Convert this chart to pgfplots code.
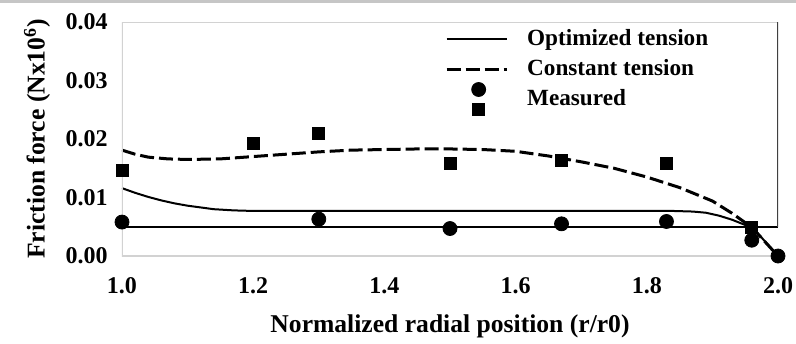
\documentclass[border=0pt]{standalone}
\usepackage{fontspec}
\setmainfont{Liberation Serif}
\usepackage{pgfplots}
\pgfplotsset{compat=1.18}
\newcommand{\myfont}{\fontsize{12}{14}\selectfont\bfseries}
\newcommand{\legfont}{\fontsize{11.6}{14}\selectfont\bfseries}
\newcommand{\labfont}{\fontsize{12.8}{15}\selectfont\bfseries}
\begin{document}
\begin{tikzpicture}
\begin{axis}[
  scale only axis, width=328pt, height=117pt,
  xmin=1, xmax=2, ymin=0, ymax=0.04,
  axis line style={draw=none},
  major tick length=0pt,
  xtick={1,1.2,1.4,1.6,1.8,2},
  ytick={0,0.01,0.02,0.03,0.04},
  scaled y ticks=false,
  /pgf/number format/assume math mode=true,
  x tick label style={/pgf/number format/.cd, fixed, fixed zerofill, precision=1, /tikz/.cd, font=\myfont, anchor=center, yshift=-15pt},
  y tick label style={/pgf/number format/.cd, fixed, fixed zerofill, precision=2, /tikz/.cd, font=\myfont, anchor=east, inner sep=0pt, xshift=-7pt},
  xlabel={Normalized radial position (r/r0)},
  ylabel={Friction force (Nx10\textsuperscript{6})},
  xlabel style={font=\labfont, at={(axis description cs:0.5,-0.299)}, anchor=center},
  ylabel style={font=\labfont, at={(axis description cs:-0.1296,0.5)}, anchor=center},
  legend style={at={(rel axis cs:0.492,0.974)}, anchor=north west, draw=none, fill=none, inner sep=0pt, font=\legfont, row sep=4pt,
    nodes={inner sep=0pt, text height=8.5pt, text depth=2.5pt},
    /tikz/every odd column/.append style={column sep=9.5pt}},
  legend cell align=left,
]
\addlegendimage{black, line width=1pt, legend image code/.code={\draw (0pt,0pt) -- (30pt,0pt);}}
\addlegendentry{Optimized tension}
\addlegendimage{black, line width=1.5pt, dash pattern=on 7pt off 2.5pt, legend image code/.code={\draw (0pt,0pt) -- (30pt,0pt);}}
\addlegendentry{Constant tension}
\addlegendimage{black, legend image code/.code={\path[draw=none] (0pt,0pt) -- (30pt,0pt); \fill[overlay] (16pt,5pt) circle (3.5pt); \fill[overlay] (13pt,-8pt) rectangle (19pt,-2pt);}}
\addlegendentry{Measured}

% reference horizontal line
\addplot[black, line width=0.9pt, forget plot] coordinates {(1,0.0050) (2,0.0050)};
% optimized tension
\addplot[black, line width=1pt, forget plot] coordinates {
(1.00,0.0116) (1.02,0.0108) (1.04,0.0101) (1.06,0.0095) (1.08,0.0090) (1.10,0.0086)
(1.12,0.0083) (1.14,0.0080) (1.17,0.0078) (1.20,0.0077) (1.30,0.0077) (1.50,0.0077)
(1.70,0.0077) (1.84,0.0077) (1.87,0.0076) (1.89,0.0074) (1.91,0.0069) (1.93,0.0062)
(1.95,0.0053) (1.965,0.0044) (2.00,0.0000)};
% constant tension
\addplot[black, line width=1.5pt, dash pattern=on 7pt off 2.5pt, forget plot] coordinates {
(1.00,0.0181) (1.02,0.0174) (1.04,0.0169) (1.07,0.0166) (1.10,0.0165) (1.15,0.0166)
(1.20,0.0170) (1.25,0.0174) (1.30,0.0178) (1.35,0.0181) (1.40,0.0182) (1.45,0.0183)
(1.50,0.0183) (1.55,0.0182) (1.60,0.0179) (1.65,0.0171) (1.70,0.0161) (1.75,0.0150)
(1.80,0.0135) (1.85,0.0117) (1.90,0.0094) (1.93,0.0073) (1.96,0.0049) (2.00,0.0000)};
% measured squares
\addplot[only marks, mark=square*, mark size=3pt, black, forget plot] coordinates {
(1.0,0.0146) (1.2,0.0193) (1.3,0.0209) (1.5,0.0158) (1.67,0.0163) (1.83,0.0159) (1.96,0.0049)};
% measured circles
\addplot[only marks, mark=*, mark size=3.5pt, black, forget plot] coordinates {
(1.0,0.0058) (1.3,0.0063) (1.5,0.0047) (1.67,0.0055) (1.83,0.0059) (1.96,0.0027) (2.0,0.0000)};

\draw[gray!35, line width=0.7pt] (rel axis cs:1,0) -- (rel axis cs:0,0) -- (rel axis cs:0,1) -- (rel axis cs:1,1);
\draw[black!75, line width=0.7pt] (axis cs:2,0.005) -- (rel axis cs:1,1);
\end{axis}
\fill[gray!45] ([shift={(-61pt,11pt)}]current axis.north west) rectangle ([shift={(9pt,9.7pt)}]current axis.north east);
\pgfresetboundingbox
\path ([shift={(-61pt,-43.5pt)}]current axis.south west) rectangle ++(398pt,171.5pt);
\end{tikzpicture}
\end{document}
